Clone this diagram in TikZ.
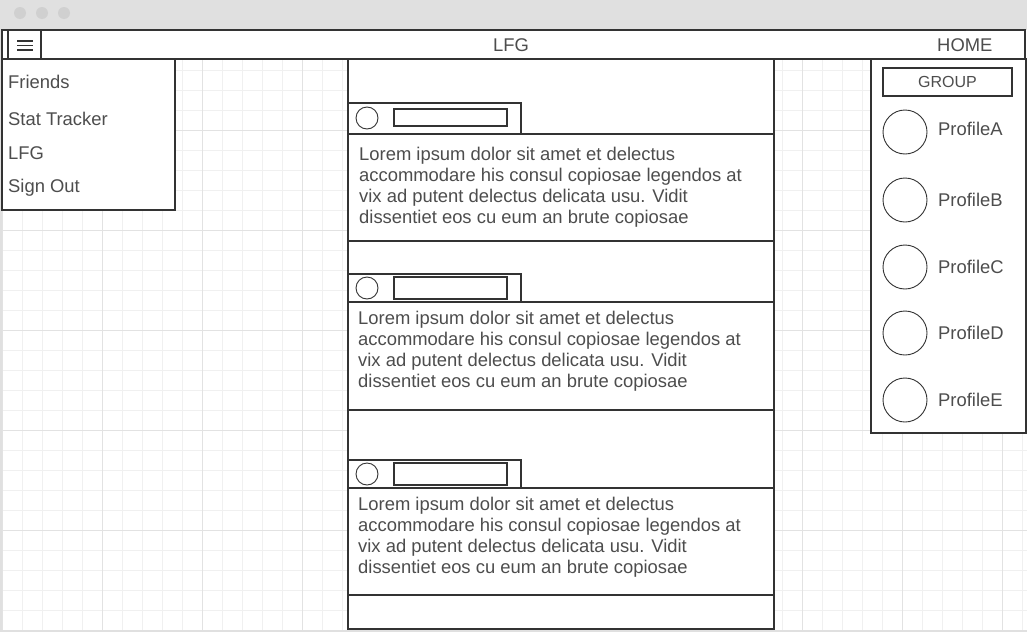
\documentclass[tikz,border=0pt]{standalone}
\usepackage{fontspec}
\setmainfont{Liberation Sans}
\definecolor{wire}{HTML}{333333}
\definecolor{ink}{HTML}{4D4D4D}
\definecolor{frame}{HTML}{E0E0E0}
\definecolor{knob}{HTML}{D0D0D0}
\definecolor{gridlo}{HTML}{F0F0F0}
\definecolor{gridhi}{HTML}{E2E2E2}
\tikzset{
  wireline/.style={draw=wire, line width=1.1pt, fill=white},
  wireround/.style={draw=wire, line width=0.9pt, fill=white},
  gridthin/.style={draw=gridlo, line width=1pt},
  gridthick/.style={draw=gridhi, line width=1pt},
  wiretext/.style={inner sep=0pt, text=ink, font=\fontsize{18.4}{21}\selectfont},
}
\begin{document}
\begin{tikzpicture}[x=1pt, y=-1pt]
			%%%%% START %%%%%
			\useasboundingbox (0,0) rectangle (1027,632);
			\fill[white] (0,0) rectangle (1027,632);
			
			% window frame
			\fill[frame] (0,0) rectangle (1027,30);
			\fill[knob] (20,13) circle (6pt);
			\fill[knob] (42,13) circle (6pt);
			\fill[knob] (64,13) circle (6pt);
			
			% grid
			\foreach \gx in {2,22,...,1022} \draw[gridthin] (\gx,30) -- (\gx,631);
			\foreach \gy in {70,90,...,630} \draw[gridthin] (0,\gy) -- (1027,\gy);
			\foreach \gx in {2,102,...,1002} \draw[gridthick] (\gx,30) -- (\gx,631);
			\foreach \gy in {130,230,...,530} \draw[gridthick] (0,\gy) -- (1027,\gy);
			\draw[frame, line width=2pt] (1,30) -- (1,631) -- (1027,631);
			
			% top bar
			\draw[wireline] (2,30) rectangle (1025,59);
			\draw[wireline] (8,30) rectangle (41,59);
			\draw[wire, line width=1.6pt] (17,41) -- (33,41);
			\draw[wire, line width=1.6pt] (17,45.5) -- (33,45.5);
			\draw[wire, line width=1.6pt] (17,50) -- (33,50);
			\node[wiretext, anchor=base] (title) at (511,51) {LFG};
			\node[wiretext, anchor=base west] (home) at (937,51) {HOME};
			
			% side menu
			\draw[wireline] (2,59) rectangle (175,210);
			\node[wiretext, anchor=base west] (friends) at (8,88) {Friends};
			\node[wiretext, anchor=base west] (stats) at (8,125) {Stat Tracker};
			\node[wiretext, anchor=base west] (lfg) at (8,159) {LFG};
			\node[wiretext, anchor=base west] (signout) at (8,192) {Sign Out};
			
			% feed
			\draw[wireline] (348,59) rectangle (774,629);
			
			\draw[wireline] (348,103) rectangle (521,134);
			\draw[wireround] (367,118) circle (11pt);
			\draw[wireline] (394,109) rectangle (507,126);
			\draw[wireline] (348,134) rectangle (774,241);
			\node[wiretext, anchor=base west, align=left] (postA) at (359,223) {Lorem ipsum dolor sit amet et delectus\\accommodare his consul copiosae legendos at\\vix ad putent delectus delicata usu. Vidit\\dissentiet eos cu eum an brute copiosae};
			
			\draw[wireline] (348,274) rectangle (521,302);
			\draw[wireround] (367,288) circle (11pt);
			\draw[wireline] (394,277) rectangle (507,299);
			\draw[wireline] (348,302) rectangle (774,410);
			\node[wiretext, anchor=base west, align=left] (postB) at (358,387) {Lorem ipsum dolor sit amet et delectus\\accommodare his consul copiosae legendos at\\vix ad putent delectus delicata usu. Vidit\\dissentiet eos cu eum an brute copiosae};
			
			\draw[wireline] (348,460) rectangle (521,488);
			\draw[wireround] (367,474) circle (11pt);
			\draw[wireline] (394,463) rectangle (507,485);
			\draw[wireline] (348,488) rectangle (774,595);
			\node[wiretext, anchor=base west, align=left] (postC) at (358,573) {Lorem ipsum dolor sit amet et delectus\\accommodare his consul copiosae legendos at\\vix ad putent delectus delicata usu. Vidit\\dissentiet eos cu eum an brute copiosae};
			
			% group panel
			\draw[wireline] (871,59) rectangle (1026,433);
			\draw[wire, line width=1.1pt] (883,68) rectangle (1012,96);
			\node[wiretext, font=\fontsize{16}{19}\selectfont] (group) at (947.5,82) {GROUP};
			
			\draw[wireround] (905,132) circle (22pt);
			\node[wiretext, anchor=base west] (profA) at (938,135) {ProfileA};
			\draw[wireround] (905,200) circle (22pt);
			\node[wiretext, anchor=base west] (profB) at (938,206) {ProfileB};
			\draw[wireround] (905,267) circle (22pt);
			\node[wiretext, anchor=base west] (profC) at (938,273) {ProfileC};
			\draw[wireround] (905,333) circle (22pt);
			\node[wiretext, anchor=base west] (profD) at (938,339) {ProfileD};
			\draw[wireround] (905,400) circle (22pt);
			\node[wiretext, anchor=base west] (profE) at (938,406) {ProfileE};
			
			%%%%% END %%%%%
\end{tikzpicture}
\end{document}
